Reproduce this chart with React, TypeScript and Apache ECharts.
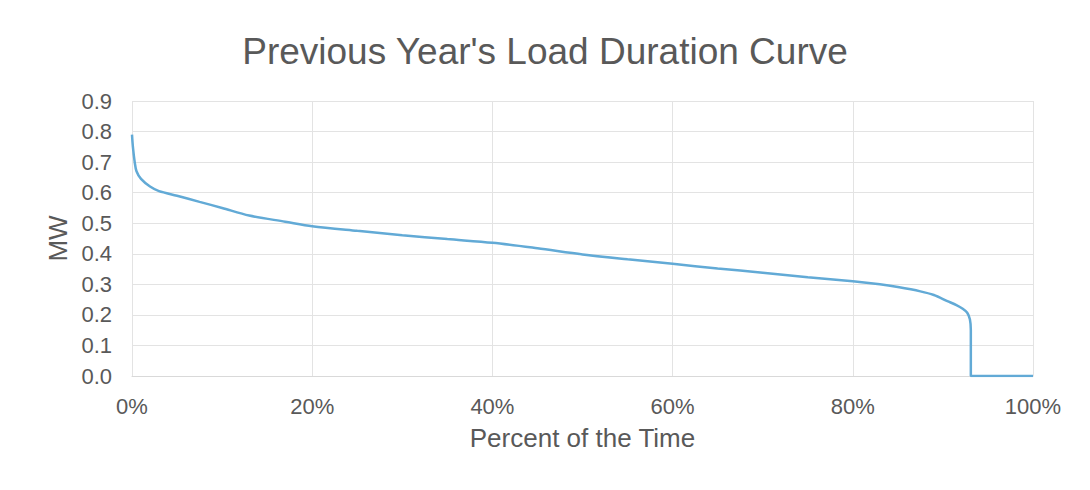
import React, { useEffect, useRef } from "react";
import * as echarts from "echarts";

const titleText = "Previous Year's Load Duration Curve";
const xAxisName = "Percent of the Time";
const yAxisName = "MW";

// percent of time (x) and load in MW (y)
const percentTime = [
  0, 0.1, 0.3, 0.5, 1, 2, 3, 5, 7.5, 10, 13, 17, 20, 25, 30, 35, 40, 45, 50, 55,
  60, 65, 70, 75, 80, 83, 85, 87.5, 89, 90.5, 91.5, 92.2, 92.7, 93.0, 93.1, 93.1, 95, 100,
];
const loadMW = [
  0.79, 0.75, 0.7, 0.67, 0.645, 0.62, 0.605, 0.59, 0.57, 0.55, 0.525, 0.505, 0.49, 0.475,
  0.461, 0.448, 0.436, 0.418, 0.398, 0.382, 0.367, 0.352, 0.338, 0.323, 0.31, 0.3, 0.291,
  0.277, 0.265, 0.245, 0.232, 0.22, 0.207, 0.185, 0.15, 0, 0, 0,
];

const FONT = "Liberation Sans, Arial, sans-serif";

export default function App() {
  const ref = useRef<HTMLDivElement>(null);
  useEffect(() => {
    if (!ref.current) return;
    const chart = echarts.init(ref.current, null, { renderer: "svg" });
    const data = percentTime.map((x, i) => [x, loadMW[i]]);
    chart.setOption({
      animation: false,
      backgroundColor: "#ffffff",
      title: {
        text: titleText,
        left: "center",
        top: 20,
        textStyle: { fontFamily: FONT, fontSize: 37, fontWeight: "normal", color: "#595959" },
      },
      grid: { left: 124, right: 49, top: 93, bottom: 106 },
      xAxis: {
        type: "value",
        min: 0,
        max: 100,
        interval: 20,
        name: xAxisName,
        nameLocation: "middle",
        nameGap: 49,
        nameTextStyle: { fontFamily: FONT, fontSize: 26, color: "#595959" },
        axisLine: { show: true, lineStyle: { color: "#d9d9d9" } },
        axisTick: { show: false },
        axisLabel: { formatter: "{value}%", margin: 19, fontFamily: FONT, fontSize: 22, color: "#595959" },
        splitLine: { show: true, lineStyle: { color: "#e3e3e3", width: 1 } },
      },
      yAxis: {
        type: "value",
        min: 0,
        max: 0.9,
        interval: 0.1,
        name: yAxisName,
        nameLocation: "middle",
        nameGap: 52,
        nameRotate: 90,
        nameTextStyle: { fontFamily: FONT, fontSize: 26, color: "#595959" },
        axisLine: { show: false },
        axisTick: { show: false },
        axisLabel: {
          formatter: (v: number) => v.toFixed(1),
          margin: 20,
          fontFamily: FONT,
          fontSize: 22,
          color: "#595959",
        },
        splitLine: { show: true, lineStyle: { color: "#e3e3e3", width: 1 } },
      },
      series: [
        {
          type: "line",
          data,
          showSymbol: false,
          smooth: 0.3,
          lineStyle: { color: "#62aad6", width: 2.5 },
        },
      ],
    });
    return () => chart.dispose();
  }, []);
  return <div ref={ref} style={{ width: 1074, height: 474 }} />;
}
